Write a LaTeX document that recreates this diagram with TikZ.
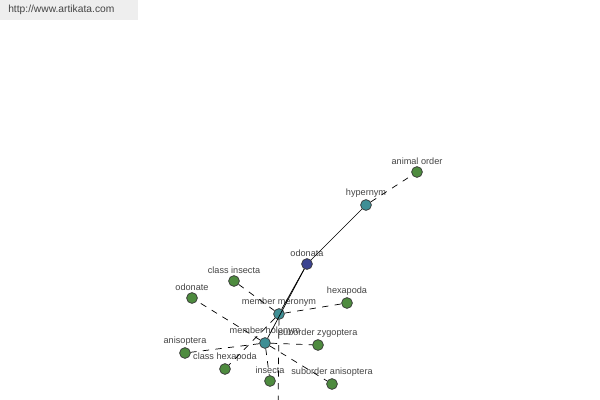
\documentclass[tikz,border=0pt]{standalone}
\usepackage{fontspec}
\setmainfont{Liberation Sans}
\usepackage{tikz}
\definecolor{leaf}{HTML}{4E8B3F}
\definecolor{rel}{HTML}{3F8F95}
\definecolor{head}{HTML}{3B4390}
\definecolor{ink}{HTML}{444444}
\definecolor{stamp}{HTML}{EEEEEE}

\begin{document}
\begin{tikzpicture}[x=0.025cm,y=-0.025cm,
  word/.style={circle,draw=black!80,line width=0.5pt,minimum size=0.27cm,inner sep=0pt,
    label={[text=ink,font=\fontsize{6.5}{7}\selectfont,label distance=-2.5pt]above:#1}},
  leafnode/.style={word=#1,fill=leaf},
  relnode/.style={word=#1,fill=rel},
  headnode/.style={word=#1,fill=head},
  link/.style={line width=0.5pt,black},
  weak/.style={line width=0.5pt,black,dash pattern=on 4.5pt off 4.5pt}]
\useasboundingbox (0,0) rectangle (600,400);
\clip (0,0) rectangle (600,400);
\fill[white] (0,0) rectangle (600,400);
\fill[stamp] (0,0) rectangle (138,20);
\node[anchor=west,text=ink,font=\fontsize{7.3}{8}\selectfont,inner sep=0pt] (site) at (8,10) {http://www.artikata.com};
\coordinate (below) at (278,420);
\node[headnode=odonata] (odonata) at (307,264) {};
\node[relnode=hypernym] (hypernym) at (366,205) {};
\node[leafnode=animal order] (animalorder) at (417,172) {};
\node[relnode=member meronym] (meronym) at (279,314) {};
\node[relnode=member holonym] (holonym) at (265,343) {};
\node[leafnode=class insecta] (classinsecta) at (234,281) {};
\node[leafnode=odonate] (odonate) at (192,298) {};
\node[leafnode=hexapoda] (hexapoda) at (347,303) {};
\node[leafnode=suborder zygoptera] (zygoptera) at (318,345) {};
\node[leafnode=anisoptera] (anisoptera) at (185,353) {};
\node[leafnode=class hexapoda] (classhexapoda) at (225,369) {};
\node[leafnode=insecta] (insecta) at (270,381) {};
\node[leafnode=suborder anisoptera] (subanisoptera) at (332,384) {};
\draw[link] (odonata) -- (hypernym);
\draw[link] (odonata) -- (meronym);
\draw[link] (odonata) -- (holonym);
\draw[weak] (hypernym) -- (animalorder);
\draw[weak] (meronym) -- (classinsecta);
\draw[weak] (meronym) -- (hexapoda);
\draw[weak] (meronym) -- (classhexapoda);
\draw[weak] (meronym) -- (below);
\draw[weak] (holonym) -- (odonate);
\draw[weak] (holonym) -- (anisoptera);
\draw[weak] (holonym) -- (zygoptera);
\draw[weak] (holonym) -- (insecta);
\draw[weak] (holonym) -- (subanisoptera);
\end{tikzpicture}
\end{document}
